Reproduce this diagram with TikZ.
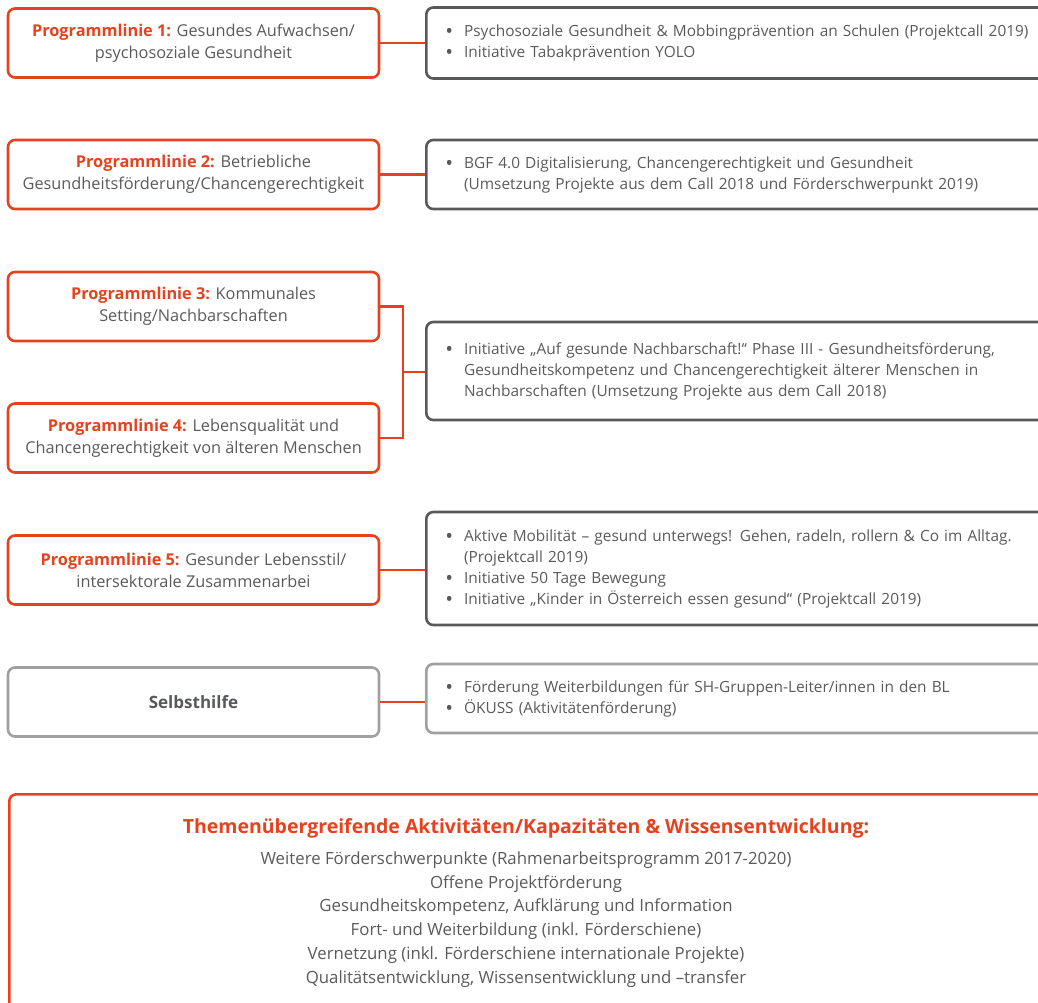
\documentclass[tikz,border=0pt]{standalone}
\usepackage{fontspec}
\setmainfont{Open Sans}
\definecolor{pred}{HTML}{E8411E}
\definecolor{pgray}{HTML}{58595B}
\definecolor{lgray}{HTML}{A0A0A0}
\definecolor{tgray}{HTML}{5A5A5A}
\newcommand{\pl}[1]{\textbf{\textcolor{pred}{#1}}}
\newcommand{\bul}{\hspace{-1pt}\raisebox{-0.22ex}{\scalebox{1.35}{\textbullet}}}
\begin{document}
\begin{tikzpicture}[x=1pt,y=-1pt,
  lbox/.style={draw=pred, line width=2.6pt, rounded corners=7pt, minimum width=371pt,
    minimum height=69pt, align=center, text=tgray, font=\fontsize{16.3}{22}\selectfont},
  rbox/.style={draw=pgray, line width=2.6pt, rounded corners=7pt, anchor=west,
    inner xsep=20pt, text width=590pt, align=left, text=tgray,
    font=\fontsize{15.4}{21}\selectfont},
  conn/.style={draw=pred, line width=2.6pt}]
\useasboundingbox (0,0) rectangle (1038,1002);
\clip (0,0) rectangle (1038,1002);

% left boxes
\node[lbox] (l1) at (193.5,43) {\pl{Programmlinie 1:} Gesundes Aufwachsen/\\psychosoziale Gesundheit};
\node[lbox] (l2) at (193.5,174.5) {\pl{Programmlinie 2:} Betriebliche\\Gesundheitsförderung/Chancengerechtigkeit};
\node[lbox] (l3) at (193.5,306.5) {\pl{Programmlinie 3:} Kommunales\\Setting/Nachbarschaften};
\node[lbox] (l4) at (193.5,438) {\pl{Programmlinie 4:} Lebensqualität und\\Chancengerechtigkeit von älteren Menschen};
\node[lbox] (l5) at (193.5,570) {\pl{Programmlinie 5:} Gesunder Lebensstil/\\intersektorale Zusammenarbei};
\node[lbox, draw=lgray, text=pgray, font=\fontsize{17}{22}\selectfont] (l6) at (193.5,702) {\textbf{Selbsthilfe}};

% right boxes
\node[rbox, minimum height=71pt] (r1) at (425,43) {%
\begin{tabular}{@{}l@{\hspace{11pt}}l@{}}
\bul & Psychosoziale Gesundheit \& Mobbingprävention an Schulen (Projektcall 2019)\\
\bul & Initiative Tabakprävention YOLO
\end{tabular}};
\node[rbox, minimum height=69pt] (r2) at (425,174.5) {%
\begin{tabular}{@{}l@{\hspace{11pt}}l@{}}
\bul & BGF 4.0 Digitalisierung, Chancengerechtigkeit und Gesundheit\\
 & (Umsetzung Projekte aus dem Call 2018 und Förderschwerpunkt 2019)
\end{tabular}};
\node[rbox, minimum height=98pt] (r3) at (425,371) {%
\begin{tabular}{@{}l@{\hspace{11pt}}l@{}}
\bul & Initiative „Auf gesunde Nachbarschaft!“ Phase III - Gesundheitsförderung,\\
 & Gesundheitskompetenz und Chancengerechtigkeit älterer Menschen in\\
 & Nachbarschaften (Umsetzung Projekte aus dem Call 2018)
\end{tabular}};
\node[rbox, minimum height=113pt] (r5) at (425,568.5) {%
\begin{tabular}{@{}l@{\hspace{11pt}}l@{}}
\bul & Aktive Mobilität – gesund unterwegs! Gehen, radeln, rollern \& Co im Alltag.\\
 & (Projektcall 2019)\\
\bul & Initiative 50 Tage Bewegung\\
\bul & Initiative „Kinder in Österreich essen gesund“ (Projektcall 2019)
\end{tabular}};
\node[rbox, draw=lgray, minimum height=69pt] (r6) at (425,698.5) {%
\begin{tabular}{@{}l@{\hspace{11pt}}l@{}}
\bul & Förderung Weiterbildungen für SH-Gruppen-Leiter/innen in den BL\\
\bul & ÖKUSS (Aktivitätenförderung)
\end{tabular}};

% connectors
\draw[conn] (l1.east) -- (l1.east -| r1.west);
\draw[conn] (l2.east) -- (l2.east -| r2.west);
\coordinate (j) at (403,372);
\draw[conn] (l3.east) -- (l3.east -| j) -- (l4.east -| j) -- (l4.east);
\draw[conn] (j) -- (j -| r3.west);
\draw[conn] (l5.east) -- (l5.east -| r5.west);
\draw[conn] (l6.east) -- (l6.east -| r6.west);

% bottom box
\node[draw=pred, line width=2.6pt, rounded corners=7pt, anchor=north west,
  minimum width=1036pt, minimum height=260pt] (bx) at (8,793) {};
\node[text=pred, font=\fontsize{19.5}{22}\bfseries] (bt) at (526,828) {Themenübergreifende Aktivitäten/Kapazitäten \& Wissensentwicklung:};
\node[text=tgray, align=center, font=\fontsize{16.8}{23.8}\selectfont, anchor=north] (bl) at (526,848)
 {Weitere Förderschwerpunkte (Rahmenarbeitsprogramm 2017-2020)\\
  Offene Projektförderung\\
  Gesundheitskompetenz, Aufklärung und Information\\
  Fort- und Weiterbildung (inkl. Förderschiene)\\
  Vernetzung (inkl. Förderschiene internationale Projekte)\\
  Qualitätsentwicklung, Wissensentwicklung und –transfer};
\end{tikzpicture}
\end{document}
